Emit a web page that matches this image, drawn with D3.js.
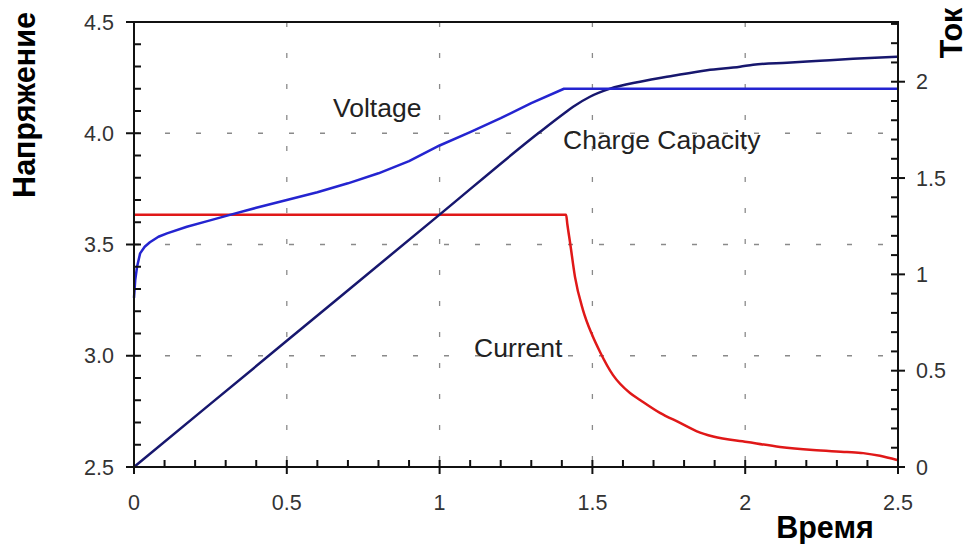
<!DOCTYPE html>
<html><head><meta charset="utf-8">
<script src="https://cdn.jsdelivr.net/npm/d3@7"></script>
<style>body{margin:0;background:#fff}svg{display:block}</style>
</head><body>
<svg id="c" width="968" height="544"></svg>
<script>
// time (x), voltage (left axis)
const voltageT = [0, 0.004, 0.01, 0.02, 0.035, 0.052, 0.08, 0.108, 0.173, 0.24, 0.314, 0.4, 0.5, 0.6, 0.7, 0.8, 0.9, 1.0, 1.1, 1.2, 1.3, 1.407, 2.5];
const voltageV = [3.26, 3.34, 3.40, 3.46, 3.49, 3.51, 3.535, 3.55, 3.58, 3.605, 3.633, 3.665, 3.70, 3.735, 3.775, 3.82, 3.875, 3.945, 4.005, 4.068, 4.135, 4.2, 4.2];
// current (right axis)
const currentT = [0, 1.414, 1.418, 1.427, 1.443, 1.469, 1.499, 1.525, 1.567, 1.623, 1.656, 1.721, 1.787, 1.842, 1.895, 2.006, 2.114, 2.222, 2.333, 2.386, 2.441, 2.497];
const currentI = [1.309, 1.309, 1.26, 1.164, 0.987, 0.816, 0.686, 0.597, 0.478, 0.384, 0.348, 0.281, 0.229, 0.185, 0.158, 0.130, 0.104, 0.088, 0.078, 0.072, 0.058, 0.036];
// charge capacity (right axis)
const chargeT = [0, 0.5, 1.0, 1.329, 1.407, 1.437, 1.492, 1.558, 1.656, 1.764, 1.875, 1.983, 2.026, 2.137, 2.245, 2.353, 2.497];
const chargeQ = [0, 0.655, 1.31, 1.740, 1.835, 1.870, 1.922, 1.964, 2.000, 2.031, 2.060, 2.078, 2.088, 2.099, 2.109, 2.119, 2.130];
const xTicks = [0, 0.5, 1, 1.5, 2, 2.5];
const xTickLabels = ["0", "0.5", "1", "1.5", "2", "2.5"];
const yLeftTicks = [2.5, 3.0, 3.5, 4.0, 4.5];
const yLeftTickLabels = ["2.5", "3.0", "3.5", "4.0", "4.5"];
const yRightTicks = [0, 0.5, 1, 1.5, 2];
const yRightTickLabels = ["0", "0.5", "1", "1.5", "2"];
const seriesNames = ["Voltage", "Charge Capacity", "Current"];

const svg = d3.select("#c");
const L = 134, R = 898, T = 22, B = 467;
const x = d3.scaleLinear().domain([0, 2.5]).range([L, R]);
const yL = d3.scaleLinear().domain([2.5, 4.5]).range([B, T]);
const yR = d3.scaleLinear().domain([0, 2.31]).range([B, T]);
const font = "'Liberation Sans', Arial, sans-serif";

// grid
const g = svg.append("g");
xTicks.slice(1, -1).forEach(t => {
  g.append("line").attr("x1", x(t)).attr("x2", x(t)).attr("y1", T).attr("y2", B)
    .attr("stroke", "#8a8a8a").attr("stroke-width", 1.3).attr("stroke-dasharray", "5,26");
});
yLeftTicks.slice(1, -1).forEach(v => {
  g.append("line").attr("x1", L).attr("x2", R).attr("y1", yL(v)).attr("y2", yL(v))
    .attr("stroke", "#8a8a8a").attr("stroke-width", 1.3).attr("stroke-dasharray", "5,26");
});

// lines
svg.append("path").attr("d", d3.line().curve(d3.curveMonotoneX).x((d, i) => x(currentT[i])).y((d, i) => yR(currentI[i]))(currentT)).attr("fill", "none")
  .attr("stroke", "#e01818").attr("stroke-width", 2.5).attr("stroke-linejoin", "round");
svg.append("path").attr("d", d3.line().curve(d3.curveMonotoneX).x((d, i) => x(chargeT[i])).y((d, i) => yR(chargeQ[i]))(chargeT)).attr("fill", "none")
  .attr("stroke", "#17176e").attr("stroke-width", 2.5);
svg.append("path").attr("d", d3.line().x((d, i) => x(voltageT[i])).y((d, i) => yL(voltageV[i]))(voltageT)).attr("fill", "none")
  .attr("stroke", "#2424d0").attr("stroke-width", 2.5).attr("stroke-linejoin", "round");

// frame
svg.append("rect").attr("x", L).attr("y", T).attr("width", R - L).attr("height", B - T)
  .attr("fill", "none").attr("stroke", "#111").attr("stroke-width", 2);

// axes
const ax = svg.append("g").attr("stroke", "#111").attr("stroke-width", 2);
d3.range(0, 26).forEach(i => {
  const t = i / 10, major = i % 5 === 0;
  ax.append("line").attr("x1", x(t)).attr("x2", x(t)).attr("y1", major ? B + 7 : B).attr("y2", B - 7);
});
d3.range(0, 21).forEach(i => {
  const v = 2.5 + i / 10, major = i % 5 === 0;
  ax.append("line").attr("y1", yL(v)).attr("y2", yL(v)).attr("x1", major ? L - 8 : L).attr("x2", L + 7);
});
d3.range(0, 24).forEach(i => {
  const v = i / 10, major = i % 5 === 0;
  ax.append("line").attr("y1", yR(v)).attr("y2", yR(v)).attr("x1", major ? R + 7 : R).attr("x2", R - 7);
});

const tk = svg.append("g").attr("font-family", font).attr("font-size", 21.5).attr("fill", "#333");
xTicks.forEach((t, i) => tk.append("text").attr("x", x(t)).attr("y", 510).attr("text-anchor", "middle").text(xTickLabels[i]));
yLeftTicks.forEach((v, i) => tk.append("text").attr("x", 114).attr("y", yL(v) + 7.5).attr("text-anchor", "end").text(yLeftTickLabels[i]));
yRightTicks.forEach((v, i) => tk.append("text").attr("x", 916).attr("y", yR(v) + 7.5).attr("text-anchor", "start").text(yRightTickLabels[i]));

const an = svg.append("g").attr("font-family", font).attr("font-size", 26.5).attr("fill", "#222");
an.append("text").attr("x", 333).attr("y", 117).text(seriesNames[0]);
an.append("text").attr("x", 563).attr("y", 149).text(seriesNames[1]);
an.append("text").attr("x", 474).attr("y", 357).text(seriesNames[2]);

const tt = svg.append("g").attr("font-family", font).attr("font-size", 30.5).attr("font-weight", "bold").attr("fill", "#000");
tt.append("text").attr("transform", "translate(35,105) rotate(-90)").attr("text-anchor", "middle").text("Напряжение");
tt.append("text").attr("transform", "translate(962,33) rotate(-90)").attr("text-anchor", "middle").text("Ток");
tt.append("text").attr("x", 825).attr("y", 538).attr("text-anchor", "middle").text("Время");
</script>
</body></html>
